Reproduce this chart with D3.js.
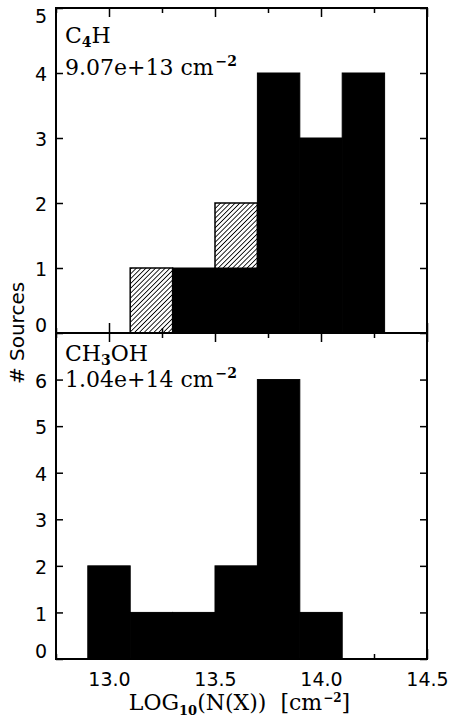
<!DOCTYPE html>
<html>
<head>
<meta charset="utf-8">
<script src="https://cdn.jsdelivr.net/npm/d3@7"></script>
<style>
  body { margin: 0; background: #fff; }
  svg { display: block; }
  .tick text { font-family: "DejaVu Sans", sans-serif; font-size: 19px; fill: #000; }
  .lbl { font-family: "DejaVu Serif", serif; font-size: 22px; fill: #000; white-space: pre; }
</style>
</head>
<body>
<svg id="chart" width="453" height="722"></svg>
<script>
// histogram bins (left edges), width 0.2 dex
var binStart = [12.9, 13.1, 13.3, 13.5, 13.7, 13.9, 14.1];
var binWidth = 0.2;

// C4H: all sources (incl. upper limits) and detections
var c4hAll = [0, 1, 1, 2, 4, 3, 4];
var c4hDet = [0, 0, 1, 1, 4, 3, 4];

// CH3OH
var ch3ohAll = [2, 1, 1, 2, 6, 1, 0];
var ch3ohDet = [2, 1, 1, 2, 6, 1, 0];

var xMajor = [13.0, 13.5, 14.0, 14.5];
var xMinor = [12.75, 13.25, 13.75, 14.25];

var svg = d3.select("#chart");
var left = 56, right = 427;

var x = d3.scaleLinear().domain([12.75, 14.5]).range([left, right]);

// hatch pattern for upper limits
var defs = svg.append("defs");
var pat = defs.append("pattern")
    .attr("id", "hatch")
    .attr("patternUnits", "userSpaceOnUse")
    .attr("width", 3.4).attr("height", 3.4)
    .attr("patternTransform", "rotate(45)");
pat.append("rect").attr("width", 3.4).attr("height", 3.4).attr("fill", "#fff");
pat.append("line")
    .attr("x1", 0).attr("y1", 0).attr("x2", 0).attr("y2", 3.4)
    .attr("stroke", "#000").attr("stroke-width", 1.7);

var panels = [
    { all: c4hAll, det: c4hDet, ymax: 5, top: 8, bottom: 333,
      name: ["C", "4", "H"], col: "9.07e+13", nameY: 43, colY: 75, bottomLabels: false },
    { all: ch3ohAll, det: ch3ohDet, ymax: 7, top: 333, bottom: 659,
      name: ["CH", "3", "OH"], col: "1.04e+14", nameY: 361, colY: 387, bottomLabels: true }
];

panels.forEach(function (p) {
    var y = d3.scaleLinear().domain([0, p.ymax]).range([p.bottom, p.top]);
    var g = svg.append("g");

    // upper-limit (hatched) bars first
    g.selectAll("rect.all")
        .data(binStart.map(function (b, i) { return { b: b, v: p.all[i], d: p.det[i] }; })
            .filter(function (d) { return d.v > d.d; }))
        .enter().append("rect")
        .attr("class", "all")
        .attr("x", function (d) { return x(d.b); })
        .attr("width", function (d) { return x(d.b + binWidth) - x(d.b); })
        .attr("y", function (d) { return y(d.v); })
        .attr("height", function (d) { return y(0) - y(d.v); })
        .attr("fill", "url(#hatch)")
        .attr("stroke", "#000")
        .attr("stroke-width", 1.5);

    // detections, solid
    g.selectAll("rect.det")
        .data(binStart.map(function (b, i) { return { b: b, v: p.det[i] }; })
            .filter(function (d) { return d.v > 0; }))
        .enter().append("rect")
        .attr("class", "det")
        .attr("x", function (d) { return x(d.b); })
        .attr("width", function (d) { return x(d.b + binWidth) - x(d.b); })
        .attr("y", function (d) { return y(d.v); })
        .attr("height", function (d) { return y(0) - y(d.v); })
        .attr("fill", "#000")
        .attr("stroke", "#000")
        .attr("stroke-width", 1);

    // axes, ticks pointing inward
    function styleAxis(sel) {
        sel.select(".domain").remove();
        sel.selectAll(".tick line").attr("stroke", "#000").attr("stroke-width", 1.5);
    }
    var yLabels = d3.range(0, p.ymax + 1);
    if (p.ymax === 7) yLabels = d3.range(0, 7);
    var ay = svg.append("g").attr("transform", "translate(" + left + ",0)")
        .call(d3.axisLeft(y).tickValues(yLabels).tickFormat(d3.format("d"))
            .tickSize(-7).tickPadding(9))
        .call(styleAxis);
    // IDL keeps edge labels inside the panel
    ay.selectAll(".tick text").attr("dy", function (d) {
        if (d === 0) return "-0.1em";
        if (d === p.ymax) return "0.75em";
        return "0.4em";
    });
    svg.append("g").attr("transform", "translate(" + right + ",0)")
        .call(d3.axisRight(y).tickValues(yLabels).tickFormat("").tickSize(-7))
        .call(styleAxis);

    svg.append("g").attr("transform", "translate(0," + p.bottom + ")")
        .call(d3.axisBottom(x).tickValues(xMajor)
            .tickFormat(p.bottomLabels ? d3.format(".1f") : "")
            .tickSize(-10).tickPadding(14))
        .call(styleAxis);
    svg.append("g").attr("transform", "translate(0," + p.bottom + ")")
        .call(d3.axisBottom(x).tickValues(xMinor).tickFormat("").tickSize(-5))
        .call(styleAxis);
    svg.append("g").attr("transform", "translate(0," + p.top + ")")
        .call(d3.axisTop(x).tickValues(xMajor).tickFormat("").tickSize(-9))
        .call(styleAxis);
    svg.append("g").attr("transform", "translate(0," + p.top + ")")
        .call(d3.axisTop(x).tickValues(xMinor).tickFormat("").tickSize(-5))
        .call(styleAxis);

    // frame
    svg.append("rect")
        .attr("x", left).attr("y", p.top)
        .attr("width", right - left).attr("height", p.bottom - p.top)
        .attr("fill", "none").attr("stroke", "#000").attr("stroke-width", 2);

    // species name with subscript
    var t = svg.append("text").attr("class", "lbl")
        .attr("x", left + 9).attr("y", p.nameY);
    t.append("tspan").text(p.name[0]);
    t.append("tspan").attr("dy", 4).attr("font-size", 14).attr("font-weight", "bold").text(p.name[1]);
    t.append("tspan").attr("dy", -4).text(p.name[2]);

    // median column density
    var c = svg.append("text").attr("class", "lbl")
        .attr("x", left + 9).attr("y", p.colY);
    c.append("tspan").text(p.col + " cm");
    c.append("tspan").attr("dx", 2).attr("dy", -9).attr("font-size", 14).attr("font-weight", "bold").text("\u22122");
});

// axis titles
var xt = svg.append("text").attr("class", "lbl")
    .attr("x", (left + right) / 2 - 2).attr("y", 710)
    .attr("text-anchor", "middle")
    .attr("font-size", 20);
xt.append("tspan").text("LOG");
xt.append("tspan").attr("dy", 5).attr("font-size", 13).attr("font-weight", "bold").text("10");
xt.append("tspan").attr("dy", -5).text("(N(X))  [cm");
xt.append("tspan").attr("dx", 1).attr("dy", -8).attr("font-size", 12).attr("font-weight", "bold").text("\u22122");
xt.append("tspan").attr("dy", 8).text("]");

svg.append("text")
    .attr("transform", "translate(24,333) rotate(-90)")
    .attr("text-anchor", "middle")
    .attr("font-family", "DejaVu Sans, sans-serif")
    .attr("font-size", 20)
    .text("# Sources");
</script>
</body>
</html>
